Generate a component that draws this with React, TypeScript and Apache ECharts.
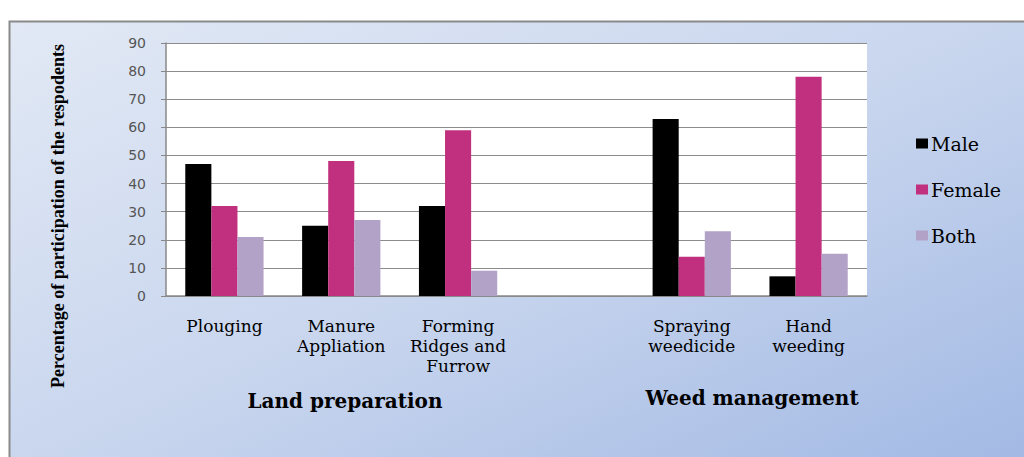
import React, { useEffect, useRef } from "react";
import * as echarts from "echarts";

const categories = [
  "Plouging",
  "Manure\nAppliation",
  "Forming\nRidges and\nFurrow",
  "",
  "Spraying\nweedicide",
  "Hand\nweeding",
];
const male = [47, 25, 32, null, 63, 7];
const female = [32, 48, 59, null, 14, 78];
const both = [21, 27, 9, null, 23, 15];
const groupLabels = ["Land preparation", "Weed management"];
const yTitle = "Percentage of participation of the respodents";

export default function App() {
  const ref = useRef<HTMLDivElement>(null);
  useEffect(() => {
    const chart = echarts.init(ref.current!, null, { renderer: "svg" });
    const serif = "'Liberation Serif', 'Times New Roman', serif";
    const wideSerif = "'DejaVu Serif', serif";
    chart.setOption({
      animation: false,
      graphic: [
        {
          type: "rect",
          z: -10,
          silent: true,
          shape: { x: 9.5, y: 21.5, width: 1100, height: 500 },
          style: {
            fill: new echarts.graphic.LinearGradient(0, 0, 1, 1, [
              { offset: 0, color: "#e2e9f5" },
              { offset: 0.45, color: "#c9d6ee" },
              { offset: 1, color: "#9ab3e2" },
            ]),
            stroke: "#8a8a8a",
            lineWidth: 2,
          },
        },
        {
          type: "text",
          x: 345,
          y: 401,
          style: {
            text: groupLabels[0],
            font: `bold 20px ${wideSerif}`,
            fill: "#000",
            align: "center",
            verticalAlign: "middle",
          },
        },
        {
          type: "text",
          x: 752,
          y: 398,
          style: {
            text: groupLabels[1],
            font: `bold 20px ${wideSerif}`,
            fill: "#000",
            align: "center",
            verticalAlign: "middle",
          },
        },
        {
          type: "text",
          x: 58,
          y: 216,
          rotation: Math.PI / 2,
          style: {
            text: yTitle,
            font: `bold 18px ${serif}`,
            fill: "#000",
            align: "center",
            verticalAlign: "middle",
          },
        },
      ],
      grid: { left: 166, right: 157, top: 43, bottom: 161, backgroundColor: "#fff", show: true, borderWidth: 0 },
      legend: {
        orient: "vertical",
        left: 911,
        top: 129,
        itemWidth: 12,
        itemHeight: 10,
        itemGap: 27,
        icon: "rect",
        textStyle: { fontFamily: wideSerif, fontSize: 19, color: "#000", padding: [0, 0, 0, -2] },
        data: ["Male", "Female", "Both"],
      },
      xAxis: {
        type: "category",
        data: categories,
        axisLine: { lineStyle: { color: "#888", width: 1.5 } },
        axisTick: { show: false },
        axisLabel: {
          interval: 0,
          margin: 20,
          fontFamily: wideSerif,
          fontSize: 17,
          lineHeight: 20,
          color: "#000",
        },
      },
      yAxis: {
        type: "value",
        min: 0,
        max: 90,
        interval: 10,
        axisLine: { show: true, lineStyle: { color: "#888", width: 1.5 } },
        axisTick: { show: true, length: 5, lineStyle: { color: "#888" } },
        axisLabel: { fontFamily: "'DejaVu Sans', Verdana, sans-serif", fontSize: 14, color: "#555", margin: 20 },
        splitLine: { lineStyle: { color: "#8c8c8c", width: 1.2 } },
      },
      series: [
        { name: "Male", type: "bar", data: male, barGap: "0%", barCategoryGap: "33%", itemStyle: { color: "#000000" } },
        { name: "Female", type: "bar", data: female, itemStyle: { color: "#c0307f" } },
        { name: "Both", type: "bar", data: both, itemStyle: { color: "#b2a2c7" } },
      ],
    });
    return () => chart.dispose();
  }, []);
  return (
    <div
      ref={ref}
      style={{ position: "absolute", left: 0, top: 0, width: 1024, height: 457, background: "#ffffff" }}
    />
  );
}
